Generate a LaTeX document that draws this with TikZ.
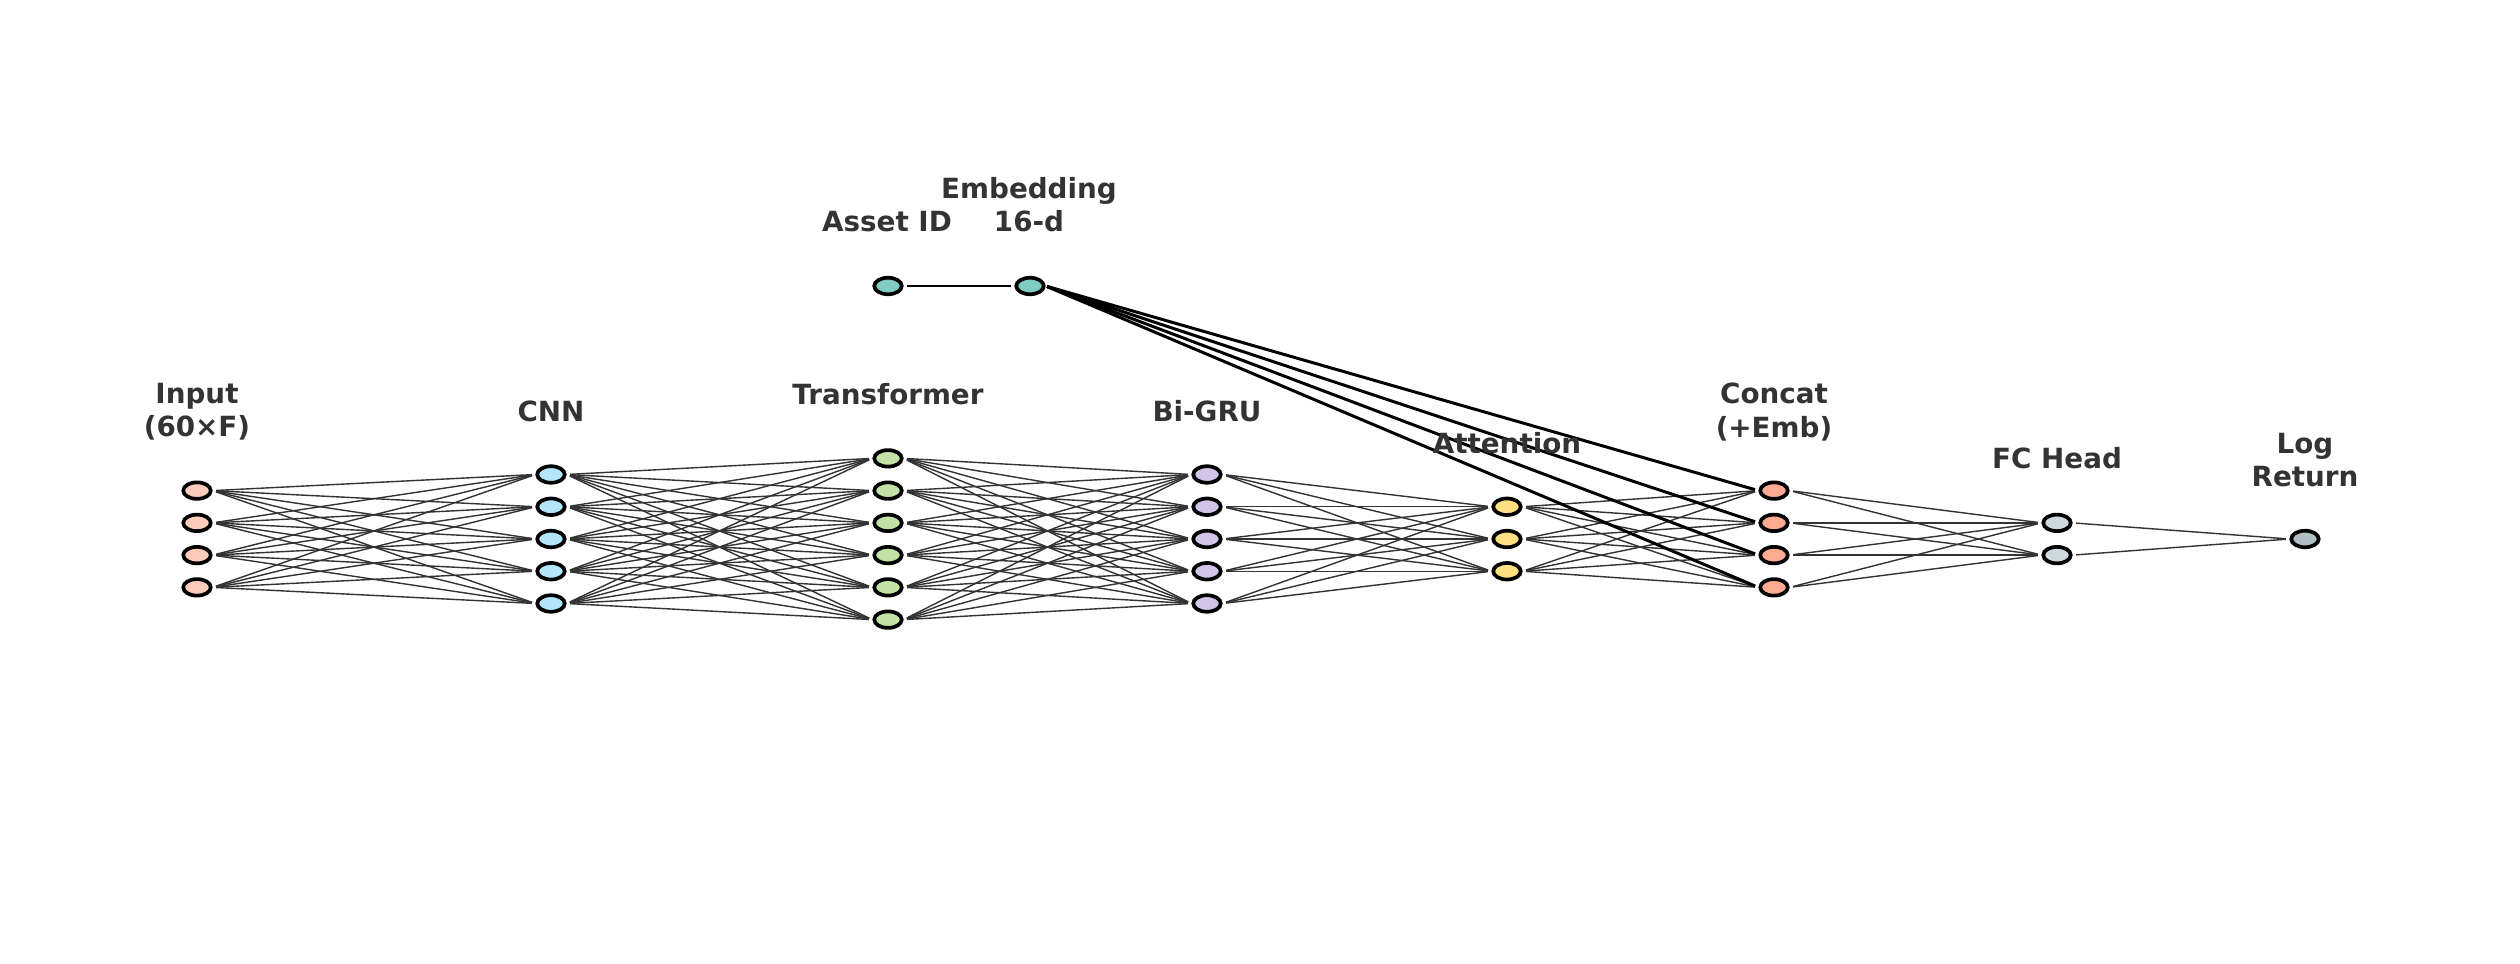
\documentclass[tikz,border=0pt]{standalone}
\usepackage{fontspec}
\setmainfont{DejaVu Sans}
\usetikzlibrary{shapes.geometric}
\definecolor{cin}{HTML}{FFCCBC}
\definecolor{ccnn}{HTML}{B3E5FC}
\definecolor{ctr}{HTML}{C5E1A5}
\definecolor{cgru}{HTML}{D1C4E9}
\definecolor{catt}{HTML}{FFE082}
\definecolor{ccat}{HTML}{FFAB91}
\definecolor{cfc}{HTML}{CFD8DC}
\definecolor{cout}{HTML}{B0BEC5}
\definecolor{cemb}{HTML}{80CBC4}
\definecolor{labgray}{HTML}{333333}
\begin{document}
\begin{tikzpicture}[x=0.01cm,y=-0.01cm,
  neuron/.style={ellipse,draw=black,line width=1.05pt,minimum width=0.275cm,minimum height=0.165cm,inner sep=0pt},
  lab/.style={font=\bfseries\fontsize{7.9}{9.4}\selectfont,text=labgray,align=center,inner sep=0pt},
  conn/.style={line width=0.4pt,draw=black!80,shorten <=0.035cm,shorten >=0.035cm},
  embconn/.style={line width=0.85pt,draw=black,shorten <=0.015cm,shorten >=0.035cm}]
\useasboundingbox (0,0) rectangle (2520,964);
\fill[white] (0,0) rectangle (2520,964);
% neurons
\foreach \i in {0,...,3} \node[neuron,fill=cin] (in\i) at (197,{539+(\i-1.5)*32.25}) {};
\foreach \i in {0,...,4} \node[neuron,fill=ccnn] (cnn\i) at (551,{539+(\i-2)*32.25}) {};
\foreach \i in {0,...,5} \node[neuron,fill=ctr] (tr\i) at (888,{539+(\i-2.5)*32.25}) {};
\foreach \i in {0,...,4} \node[neuron,fill=cgru] (gru\i) at (1207,{539+(\i-2)*32.25}) {};
\foreach \i in {0,...,2} \node[neuron,fill=catt] (att\i) at (1507,{539+(\i-1)*32.25}) {};
\foreach \i in {0,...,3} \node[neuron,fill=ccat] (cat\i) at (1774,{539+(\i-1.5)*32.25}) {};
\foreach \i in {0,...,1} \node[neuron,fill=cfc] (fc\i) at (2057,{539+(\i-0.5)*32.25}) {};
\node[neuron,fill=cout] (out0) at (2305,539) {};
\node[neuron,fill=cemb] (asset) at (888,286) {};
\node[neuron,fill=cemb] (emb) at (1030,286) {};
% connections
\foreach \i in {0,...,3} \foreach \j in {0,...,4} \draw[conn] (in\i.east) -- (cnn\j.west);
\foreach \i in {0,...,4} \foreach \j in {0,...,5} \draw[conn] (cnn\i.east) -- (tr\j.west);
\foreach \i in {0,...,5} \foreach \j in {0,...,4} \draw[conn] (tr\i.east) -- (gru\j.west);
\foreach \i in {0,...,4} \foreach \j in {0,...,2} \draw[conn] (gru\i.east) -- (att\j.west);
\foreach \i in {0,...,2} \foreach \j in {0,...,3} \draw[conn] (att\i.east) -- (cat\j.west);
\foreach \i in {0,...,3} \foreach \j in {0,...,1} \draw[conn] (cat\i.east) -- (fc\j.west);
\foreach \i in {0,...,1} \draw[conn] (fc\i.east) -- (out0.west);
\foreach \j in {0,...,3} \draw[embconn] (emb.east) -- (cat\j.west);
\draw[embconn,shorten <=0.035cm] (asset.east) -- (emb.west);
% labels
\node[lab] (linput) at (197,412) {Input\\(60×F)};
\node[lab] (lcnn) at (551,411) {CNN};
\node[lab] (ltr) at (888,394) {Transformer};
\node[lab] (lgru) at (1207,411) {Bi-GRU};
\node[lab] (latt) at (1507,443) {Attention};
\node[lab] (lcat) at (1774,412) {Concat\\(+Emb)};
\node[lab] (lfc) at (2057,458) {FC Head};
\node[lab] (lout) at (2305,460) {Log\\Return};
\node[lab] (lasset) at (887,222) {Asset ID};
\node[lab] (lemb) at (1029,205) {Embedding\\16-d};
\end{tikzpicture}
\end{document}
